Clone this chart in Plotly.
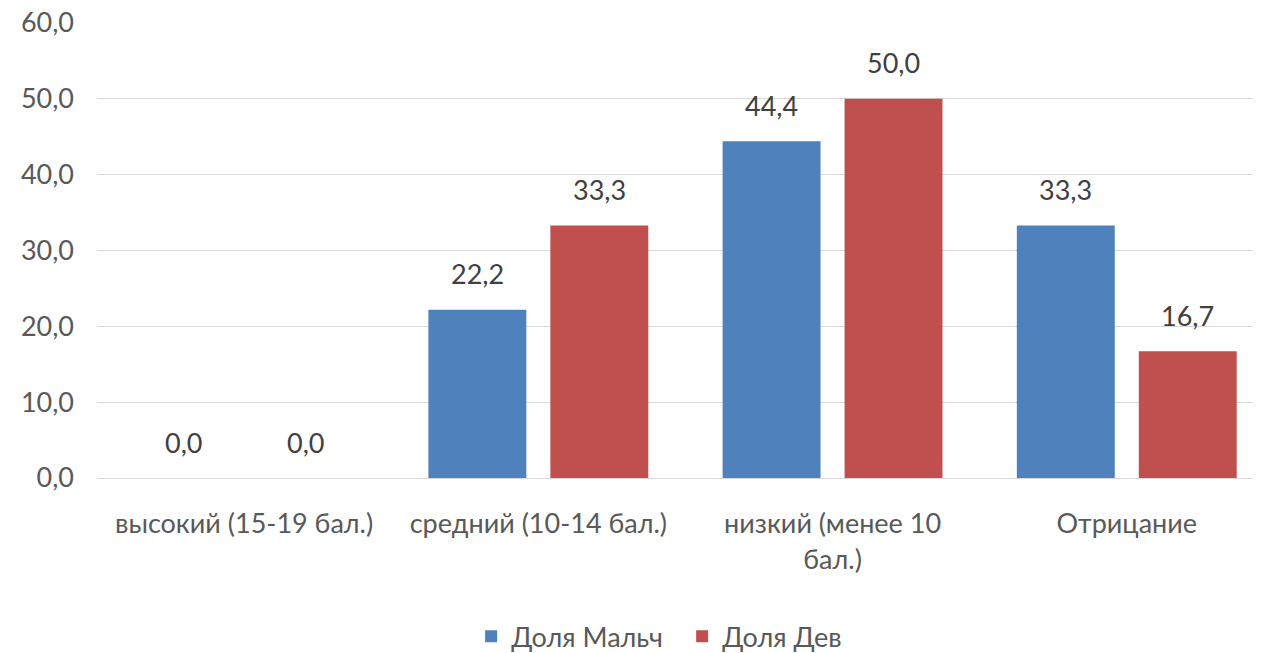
import plotly.graph_objects as go

categories = ["высокий (15-19 бал.)", "средний (10-14 бал.)", "низкий (менее 10<br>бал.)", "Отрицание"]
boys = [0.0, 22.2, 44.4, 33.3]
girls = [0.0, 33.3, 50.0, 16.7]
series_names = ["Доля Мальч", "Доля Дев"]
y_ticks = [0, 10, 20, 30, 40, 50, 60]

FONT = "Lato"
FS = 27
TXT = "#404040"
AX = "#595959"
colors = ["#4F81BD", "#C0504D"]

fig = go.Figure()
for name, vals, col in zip(series_names, [boys, girls], colors):
    fig.add_trace(go.Bar(x=list(range(len(categories))), y=vals, name=name,
                         marker=dict(color=col, line=dict(width=0))))

annotations = []
for vals, shift in [(boys, -61), (girls, 61)]:
    for i, v in enumerate(vals):
        annotations.append(dict(x=i, y=v, xref="x", yref="y", text=f"{v:.1f}".replace(".", ","),
                                showarrow=False, xshift=shift, yshift=36,
                                font=dict(family=FONT, size=FS, color=TXT)))

# page body has an 8px margin, so the figure is 8px smaller than the window
fig.update_layout(
    width=1253, height=645,
    margin=dict(l=89, r=3, t=15, b=175, autoexpand=False),
    paper_bgcolor="white", plot_bgcolor="white",
    barmode="group", bargap=0.171, bargroupgap=0.197,
    font=dict(family=FONT, size=FS, color=AX),
    annotations=annotations,
    showlegend=True,
    legend=dict(orientation="h", x=0.504, xanchor="center", y=-0.349, yanchor="middle",
                font=dict(family=FONT, size=FS, color=AX), itemwidth=30,
                entrywidth=166, entrywidthmode="pixels",
                traceorder="normal"),
    separators=",.",
)
fig.update_xaxes(range=[-0.5, 3.446], tickmode="array", tickvals=list(range(len(categories))),
                 ticktext=categories, showgrid=False, showline=True, linecolor="#d9d9d9",
                 linewidth=1, ticks="", ticklabelstandoff=22, automargin=False,
                 tickfont=dict(family=FONT, size=FS, color=AX))
fig.update_yaxes(range=[0, 60], tickvals=y_ticks, tickformat=".1f", showgrid=True,
                 gridcolor="#d9d9d9", gridwidth=1, zeroline=False, showline=False,
                 ticklabelstandoff=22, automargin=False, ticklabeloverflow="allow",
                 tickfont=dict(family=FONT, size=FS, color=AX))

fig.write_html("out.html")
